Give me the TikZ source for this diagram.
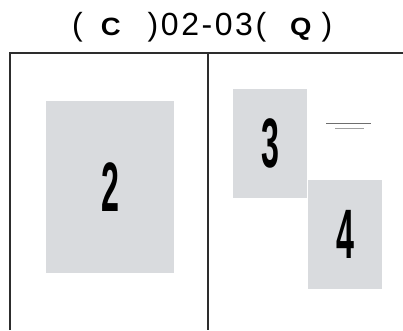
\documentclass[tikz,border=0pt]{standalone}
\usepackage{fontspec}
\setmainfont{Liberation Sans}
\usepackage{tikz}
\usetikzlibrary{positioning}
\definecolor{panelgray}{RGB}{217,219,222}
\definecolor{framegray}{RGB}{45,45,45}
\definecolor{rulegray}{RGB}{110,110,110}
\definecolor{rulelight}{RGB}{160,160,160}
\newfontfamily\titlefont[LetterSpace=8]{Liberation Sans}
\newcommand{\cardnum}[1]{\scalebox{0.46}[1]{\fontsize{70}{70}\selectfont\bfseries #1}}
\newcommand{\tagletter}[1]{{\rmfamily\bfseries\fontsize{25}{25}\selectfont\scalebox{1.1}[1]{#1}}}
\begin{document}
\begin{tikzpicture}[x=1pt,y=-1pt,
  card/.style={fill=panelgray,inner sep=0pt,anchor=north west},
  frameline/.style={framegray,line width=2pt}]
\useasboundingbox (0,0) rectangle (403,330);
% title
\node[anchor=base west,inner sep=0pt,font=\titlefont\fontsize{32}{32}\selectfont] (title) at (72,35)
  {(\hspace{18pt}\tagletter{C}\hspace{27pt})02-03(\hspace{24pt}\tagletter{Q}\hspace{10pt})};
% frame
\draw[frameline] (10,330) -- (10,53) -- (403,53);
\draw[frameline] (208,53) -- (208,330);
% cards
\node[card,minimum width=128pt,minimum height=172pt] (c2) at (46,101) {};
\node at (c2.center) {\cardnum{2}};
\node[card,minimum width=74pt,minimum height=109pt] (c3) at (233,89) {};
\node at (c3.center) {\cardnum{3}};
\node[card,minimum width=74pt,minimum height=109pt] (c4) at (308,180) {};
\node at (c4.center) {\cardnum{4}};
% double rule
\draw[rulegray,line width=1pt] (326,123) -- (371,123);
\draw[rulelight,line width=1pt] (335,128) -- (364,128);
\end{tikzpicture}
\end{document}
